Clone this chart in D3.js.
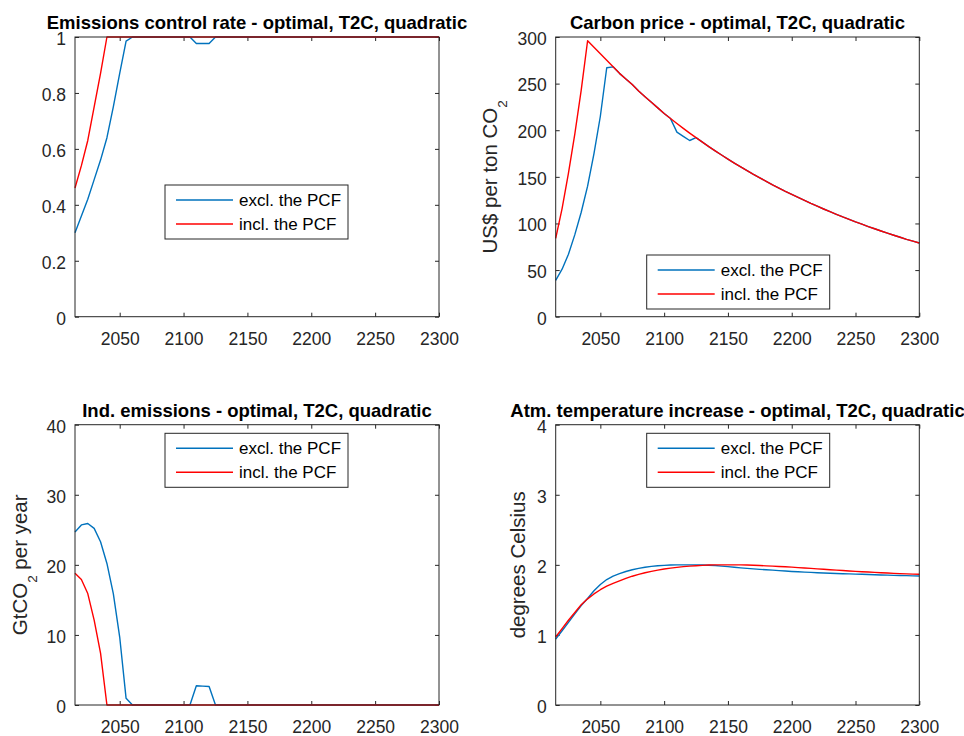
<!DOCTYPE html>
<html><head><meta charset="utf-8">
<script src="https://cdn.jsdelivr.net/npm/d3@7"></script>
<style>body{margin:0;background:#fff}svg{display:block}</style>
</head><body>
<svg id="chart" width="964" height="736"></svg>
<script>
// ---------- data ----------
const years = [2015,2020,2025,2030,2035,2040,2045,2050,2055,2060,2065,2070,2075,2080,2085,2090,2095,2100,2105,2110,2115,2120,2125,2130,2135,2140,2145,2150,2155,2160,2165,2170,2175,2180,2185,2190,2195,2200,2205,2210,2215,2220,2225,2230,2235,2240,2245,2250,2255,2260,2265,2270,2275,2280,2285,2290,2295,2300];
const seriesNames = ["excl. the PCF", "incl. the PCF"];
const xTicks = [2050, 2100, 2150, 2200, 2250, 2300];

const controlExcl = [0.30,0.36,0.42,0.49,0.56,0.64,0.75,0.87,0.985,1,1,1,1,1,1,1,1,1,1,0.977,0.977,0.977,1,1,1,1,1,1,1,1,1,1,1,1,1,1,1,1,1,1,1,1,1,1,1,1,1,1,1,1,1,1,1,1,1,1,1,1];
const controlIncl = [0.46,0.54,0.63,0.75,0.87,1,1,1,1,1,1,1,1,1,1,1,1,1,1,1,1,1,1,1,1,1,1,1,1,1,1,1,1,1,1,1,1,1,1,1,1,1,1,1,1,1,1,1,1,1,1,1,1,1,1,1,1,1];

const priceExcl = [39,51,67,88,112,140,175,215,267,268,261,255,249,242,236,230,224,218,212.5,198,193.5,189,192,187.2,182.5,177.9,173.4,169.1,164.8,160.7,156.7,152.7,148.9,145.2,141.5,138,134.5,131.2,127.9,124.7,121.5,118.5,115.5,112.6,109.8,107,104.4,101.7,99.2,96.7,94.3,91.9,89.6,87.4,85.2,83,81,79];
const priceIncl = [84,116,154,196,243,296,289,282,275,268,261,255,249,242,236,230,224,218,212.5,207.2,202,196.9,192,187.2,182.5,177.9,173.4,169.1,164.8,160.7,156.7,152.7,148.9,145.2,141.5,138,134.5,131.2,127.9,124.7,121.5,118.5,115.5,112.6,109.8,107,104.4,101.7,99.2,96.7,94.3,91.9,89.6,87.4,85.2,83,81,79];

const emisExcl = [24.7,25.7,25.9,25.2,23.3,20.2,15.9,9.7,0.95,0,0,0,0,0,0,0,0,0,0,2.75,2.7,2.65,0,0,0,0,0,0,0,0,0,0,0,0,0,0,0,0,0,0,0,0,0,0,0,0,0,0,0,0,0,0,0,0,0,0,0,0];
const emisIncl = [18.8,17.9,15.9,12.1,7.4,0,0,0,0,0,0,0,0,0,0,0,0,0,0,0,0,0,0,0,0,0,0,0,0,0,0,0,0,0,0,0,0,0,0,0,0,0,0,0,0,0,0,0,0,0,0,0,0,0,0,0,0,0];

const tempExcl = [0.94,1.06,1.18,1.30,1.42,1.52,1.63,1.72,1.79,1.84,1.875,1.905,1.93,1.95,1.965,1.978,1.987,1.993,1.997,2.0,2.0,2.0,2.0,1.998,1.995,1.99,1.982,1.974,1.965,1.957,1.95,1.943,1.936,1.93,1.924,1.918,1.912,1.906,1.901,1.896,1.892,1.888,1.884,1.88,1.877,1.874,1.871,1.868,1.865,1.862,1.859,1.856,1.853,1.85,1.848,1.846,1.843,1.84];
const tempIncl = [0.97,1.09,1.21,1.32,1.43,1.515,1.585,1.645,1.695,1.735,1.772,1.807,1.838,1.864,1.887,1.907,1.925,1.94,1.953,1.964,1.974,1.982,1.988,1.993,1.997,1.999,2.0,2.0,2.0,1.999,1.997,1.994,1.99,1.986,1.982,1.977,1.972,1.967,1.961,1.955,1.949,1.943,1.937,1.931,1.925,1.919,1.913,1.907,1.902,1.897,1.892,1.887,1.883,1.879,1.875,1.871,1.868,1.865];

const yTicksControl = [0, 0.2, 0.4, 0.6, 0.8, 1];
const yTicksPrice = [0, 50, 100, 150, 200, 250, 300];
const yTicksEmis = [0, 10, 20, 30, 40];
const yTicksTemp = [0, 1, 2, 3, 4];

const colors = ["#0072BD", "#FF0000"];
const FONT = "'Liberation Sans', Arial, Helvetica, sans-serif";
const AX = "#262626";

const svg = d3.select("#chart").style("font-family", FONT);

function panel(cfg) {
  const x = d3.scaleLinear().domain([2015, 2300]).range([cfg.left, cfg.right]);
  const y = d3.scaleLinear().domain(cfg.yDomain).range([cfg.bottom, cfg.top]);
  const g = svg.append("g");

  const bottomAx = d3.axisBottom(x).tickValues(xTicks).tickFormat(d3.format("d")).tickSizeInner(-4).tickSizeOuter(0).tickPadding(16);
  const topAx = d3.axisTop(x).tickValues(xTicks).tickFormat("").tickSizeInner(-4).tickSizeOuter(0);
  const leftAx = d3.axisLeft(y).tickValues(cfg.yTicks).tickFormat(d3.format("~g")).tickSizeInner(-4).tickSizeOuter(0).tickPadding(9);
  const rightAx = d3.axisRight(y).tickValues(cfg.yTicks).tickFormat("").tickSizeInner(-4).tickSizeOuter(0);

  const styleAx = sel => {
    sel.select(".domain").remove();
    sel.selectAll("line").attr("stroke", AX).attr("stroke-width", 1);
    sel.selectAll("text").filter(function () { return this.textContent === ""; }).remove();
    sel.selectAll("text").attr("fill", AX).style("font-size", "17.5px").style("font-family", FONT);
  };
  g.append("g").attr("transform", `translate(0,${cfg.bottom})`).call(bottomAx).call(styleAx);
  g.append("g").attr("transform", `translate(0,${cfg.top})`).call(topAx).call(styleAx);
  g.append("g").attr("transform", `translate(${cfg.left},0)`).call(leftAx).call(styleAx)
    .selectAll("text").attr("dy", "0.42em");
  g.append("g").attr("transform", `translate(${cfg.right},0)`).call(rightAx).call(styleAx);

  const line = d3.line().x((d, i) => x(years[i])).y(d => y(d));
  cfg.series.forEach((s, k) => {
    g.append("path").datum(s).attr("d", line).attr("fill", "none")
      .attr("stroke", colors[k]).attr("stroke-width", 1.4).attr("stroke-linejoin", "round");
  });

  g.append("rect").attr("x", cfg.left).attr("y", cfg.top)
    .attr("width", cfg.right - cfg.left).attr("height", cfg.bottom - cfg.top)
    .attr("fill", "none").attr("stroke", AX).attr("stroke-width", 1);

  g.append("text").attr("x", (cfg.left + cfg.right) / 2).attr("y", cfg.top - 8)
    .attr("text-anchor", "middle").style("font-size", "18.5px").style("font-weight", "bold")
    .attr("fill", "#000").text(cfg.title);

  if (cfg.ylabel) {
    const cy = (cfg.top + cfg.bottom) / 2;
    const t = g.append("text").attr("transform", `translate(${cfg.ylabelX},${cy}) rotate(-90)`)
      .attr("text-anchor", "middle").attr("fill", AX).style("font-size", "20.5px");
    let shifted = false;
    cfg.ylabel.forEach(p => {
      const ts = t.append("tspan").text(p.text);
      if (p.sub) {
        ts.attr("dy", 10).style("font-size", "13.5px");
        shifted = true;
      } else if (shifted) {
        ts.attr("dy", -10);
        shifted = false;
      }
    });
  }

  const lx = cfg.left + cfg.legend[0], ly = cfg.top + cfg.legend[1];
  const lg = g.append("g");
  lg.append("rect").attr("x", lx).attr("y", ly).attr("width", 183).attr("height", 54)
    .attr("fill", "#fff").attr("stroke", AX).attr("stroke-width", 1);
  seriesNames.forEach((n, k) => {
    const ry = ly + 15 + k * 24;
    lg.append("line").attr("x1", lx + 11).attr("x2", lx + 68).attr("y1", ry).attr("y2", ry)
      .attr("stroke", colors[k]).attr("stroke-width", 1.4);
    lg.append("text").attr("x", lx + 74).attr("y", ry).attr("dy", "0.36em")
      .attr("fill", "#000").style("font-size", "17px").text(n);
  });
}

const L1 = 75, R1 = 439, L2 = 555.7, R2 = 919.3;
const T1 = 37, B1 = 316.7, T2 = 424.7, B2 = 705;

panel({left: L1, right: R1, top: T1, bottom: B1, yDomain: [0, 1], yTicks: yTicksControl,
  title: "Emissions control rate - optimal, T2C, quadratic", ylabel: null,
  legend: [90, 148], series: [controlExcl, controlIncl]});
panel({left: L2, right: R2, top: T1, bottom: B1, yDomain: [0, 300], yTicks: yTicksPrice,
  title: "Carbon price - optimal, T2C, quadratic", ylabelX: 496.5,
  ylabel: [{text: "US$ per ton CO"}, {text: "2", sub: true}],
  legend: [91, 218], series: [priceExcl, priceIncl]});
panel({left: L1, right: R1, top: T2, bottom: B2, yDomain: [0, 40], yTicks: yTicksEmis,
  title: "Ind. emissions - optimal, T2C, quadratic", ylabelX: 27,
  ylabel: [{text: "GtCO"}, {text: "2", sub: true}, {text: " per year"}],
  legend: [90, 8.6], series: [emisExcl, emisIncl]});
panel({left: L2, right: R2, top: T2, bottom: B2, yDomain: [0, 4], yTicks: yTicksTemp,
  title: "Atm. temperature increase - optimal, T2C, quadratic", ylabelX: 525,
  ylabel: [{text: "degrees Celsius"}],
  legend: [91, 8.6], series: [tempExcl, tempIncl]});
</script>
</body></html>
